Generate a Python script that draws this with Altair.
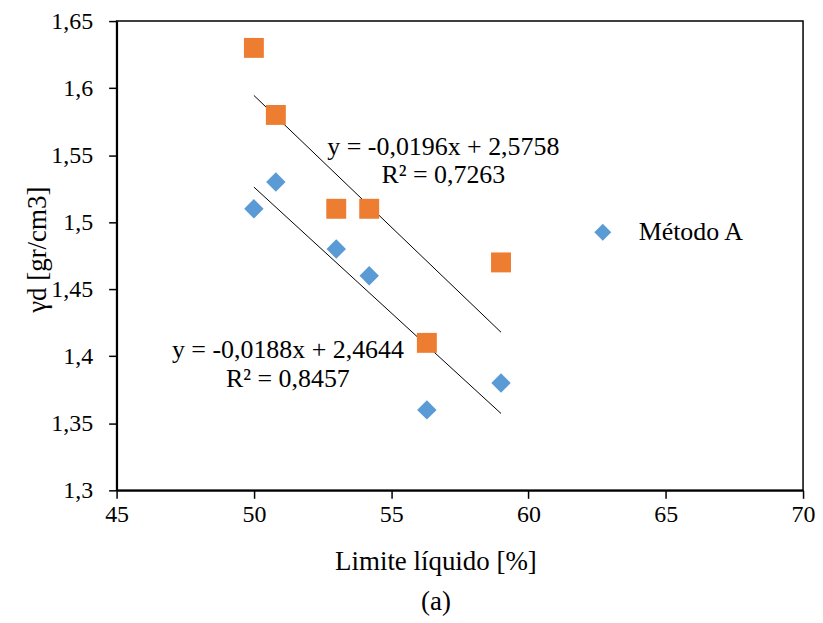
import altair as alt
import pandas as pd

# ---- data ----
x_vals = [50, 50.8, 53, 54.2, 56.3, 59]
metodo_a = [1.51, 1.53, 1.48, 1.46, 1.36, 1.38]
serie_2 = [1.63, 1.58, 1.51, 1.51, 1.41, 1.47]

x_ticks = [45, 50, 55, 60, 65, 70]
y_ticks = [1.3, 1.35, 1.4, 1.45, 1.5, 1.55, 1.6, 1.65]

ann_text = ["y = -0,0196x + 2,5758", "R² = 0,7263",
            "y = -0,0188x + 2,4644", "R² = 0,8457"]
ann_x = [56.9, 56.9, 51.24, 51.24]
ann_y = [1.556, 1.535, 1.405, 1.383]

df_a = pd.DataFrame({"x": x_vals, "y": metodo_a, "serie": ["Método A"] * len(x_vals)})
df_b = pd.DataFrame({"x": x_vals, "y": serie_2, "serie": ["Serie 2"] * len(x_vals)})
df_ann = pd.DataFrame({"x": ann_x, "y": ann_y, "t": ann_text})

FONT = "Liberation Serif"
BLUE = "#5B9BD5"
ORANGE = "#ED7D31"

xs = alt.Scale(domain=[45, 70], nice=False, zero=False)
ys = alt.Scale(domain=[1.3, 1.65], nice=False, zero=False)

x_enc = alt.X(
    "x:Q", scale=xs,
    axis=alt.Axis(
        values=x_ticks, title=["Limite líquido [%]", "(a)"],
        labelFont=FONT, titleFont=FONT, labelFontSize=24, titleFontSize=27,
        tickSize=8, labelPadding=4, tickWidth=1.5, domainWidth=2,
        titleX=320, titleY=58, titleBaseline="top", titleAlign="center",
        titleLineHeight=41, labelFlush=False,
    ),
)
y_enc = alt.Y(
    "y:Q", scale=ys,
    axis=alt.Axis(
        values=y_ticks, title="γd [gr/cm3]",
        labelFont=FONT, titleFont=FONT, labelFontSize=24, titleFontSize=27,
        labelExpr="replace(format(datum.value, '.2~f'), '.', ',')",
        tickSize=8, labelPadding=16, tickWidth=1.5, domainWidth=2,
        titleX=-79, titleY=229, titleAngle=270, titleBaseline="middle",
        titleAlign="center", labelFlush=False,
    ),
)

orange = alt.Chart(df_b).mark_point(shape="square", filled=True, opacity=1, size=400).encode(
    x=x_enc, y=y_enc, color=alt.value(ORANGE)
)

blue = alt.Chart(df_a).mark_point(shape="diamond", filled=True, opacity=1, size=380).encode(
    x=x_enc, y=y_enc,
    color=alt.Color(
        "serie:N",
        scale=alt.Scale(domain=["Método A"], range=[BLUE]),
        legend=alt.Legend(
            title=None, orient="none", legendX=475, legendY=199,
            symbolType="diamond", symbolSize=289, symbolStrokeWidth=0,
            labelFont=FONT, labelFontSize=26, labelColor="black",
            labelOffset=23, padding=0,
        ),
    ),
)

reg_a = alt.Chart(df_a).transform_regression("x", "y").mark_line(
    color="black", strokeWidth=1
).encode(x=x_enc, y=y_enc)

reg_b = alt.Chart(df_b).transform_regression("x", "y").mark_line(
    color="black", strokeWidth=1
).encode(x=x_enc, y=y_enc)

ann = alt.Chart(df_ann).mark_text(
    font=FONT, fontSize=26, color="black", align="center", baseline="middle"
).encode(x=x_enc, y=y_enc, text="t:N")

chart = alt.layer(reg_b, reg_a, orange, blue, ann).properties(
    width=689, height=471,
    autosize=alt.AutoSizeParams(type="none"),
    padding={"left": 109, "top": 12, "right": 12, "bottom": 125},
).configure(
    font=FONT
).configure_axis(
    labelFont=FONT, titleFont=FONT, labelFontSize=24, titleFontSize=27,
    labelColor="black", titleColor="black", domainColor="black",
    tickColor="black", grid=False, titleFontWeight="normal",
).configure_legend(
    labelFont=FONT
).configure_view(
    stroke="black", strokeWidth=1.5
)

chart.save("out.html", embed_options={"renderer": "svg", "actions": False})
